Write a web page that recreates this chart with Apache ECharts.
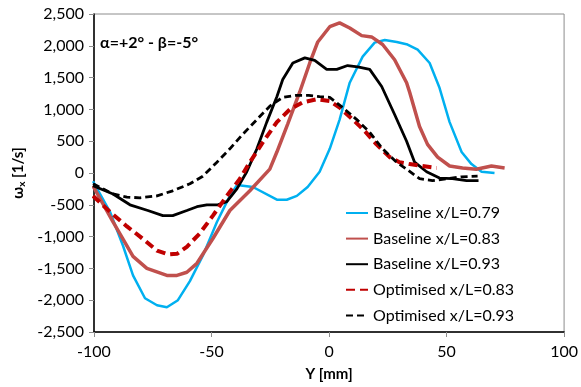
<!DOCTYPE html>
<html>
<head>
<meta charset="utf-8">
<script src="https://cdn.jsdelivr.net/npm/echarts@6/dist/echarts.min.js"></script>
<style>
  html, body { margin: 0; padding: 0; background: #fff; }
  #chart { width: 581px; height: 387px; }
</style>
</head>
<body>
<div id="chart"></div>
<script>
// Y positions [mm] and vorticity [1/s]
const base79Y = [-100.4, -93.2, -87.7, -83.4, -78.3, -73.2, -69.0, -64.3, -59.2, -53.7, -47.7, -42.2, -39.2, -32.4, -22.2, -18.0, -13.7, -9.1, -4.0, 0.3, 4.5, 8.8, 14.3, 19.4, 23.7, 28.8, 33.4, 37.7, 42.8, 47.0, 51.3, 56.4, 60.6, 64.9, 70.4];
const base79V = [-130, -610, -1140, -1610, -1970, -2080, -2110, -2000, -1700, -1300, -770, -360, -190, -220, -420, -420, -360, -220, 20, 380, 840, 1420, 1830, 2050, 2090, 2060, 2020, 1940, 1730, 1340, 800, 330, 140, 20, 0];

const base83Y = [-100.5, -91.9, -83.4, -77.5, -69.0, -64.7, -60.5, -56.2, -49.4, -42.2, -33.7, -25.2, -22.2, -17.6, -12.5, -8.2, -4.8, 0.3, 4.5, 8.8, 13.9, 18.1, 22.8, 27.9, 33.0, 34.3, 38.5, 41.9, 46.2, 51.3, 56.8, 62.7, 69.1, 74.7];
const base83V = [-200, -770, -1310, -1500, -1610, -1610, -1560, -1420, -1030, -590, -280, 60, 330, 770, 1270, 1730, 2060, 2300, 2360, 2280, 2160, 2140, 2020, 1780, 1420, 1270, 730, 450, 250, 110, 80, 60, 110, 80];

const base93Y = [-100.4, -91.9, -84.7, -77.1, -70.7, -66.5, -60.5, -56.2, -52.0, -47.3, -43.5, -39.2, -35.0, -30.7, -26.5, -22.2, -19.7, -15.4, -10.3, -6.1, -1.0, 3.3, 7.9, 12.2, 17.3, 22.4, 27.9, 33.0, 36.4, 41.5, 47.0, 52.5, 58.5, 63.6];
const base93V = [-200, -330, -500, -590, -670, -670, -590, -530, -500, -500, -450, -250, 20, 380, 800, 1200, 1470, 1730, 1810, 1770, 1630, 1630, 1690, 1670, 1630, 1360, 920, 500, 170, 20, -80, -90, -120, -120];

const opt83Y = [-100.4, -93.2, -86.0, -80.4, -73.2, -68.5, -64.7, -60.5, -55.0, -49.4, -43.5, -37.9, -33.7, -28.2, -22.2, -16.7, -11.2, -5.2, 0.3, 4.5, 10.1, 15.2, 20.2, 25.8, 30.0, 34.3, 45.8];
const opt83V = [-360, -610, -840, -1000, -1220, -1280, -1270, -1160, -950, -670, -360, -90, 170, 480, 800, 1000, 1110, 1160, 1130, 1030, 840, 660, 450, 250, 170, 140, 80];

const opt93Y = [-100.4, -91.9, -86.0, -80.4, -73.2, -66.5, -59.2, -53.7, -47.7, -42.2, -36.7, -30.7, -25.2, -19.7, -14.1, -8.6, -4.0, 0.3, 5.8, 11.8, 17.3, 22.8, 28.7, 33.0, 38.5, 44.0, 50.0, 56.4, 63.2];
const opt93V = [-170, -330, -380, -390, -360, -280, -170, -50, 170, 380, 610, 840, 1050, 1190, 1220, 1220, 1200, 1190, 1030, 840, 640, 380, 170, 60, -90, -120, -90, -60, -50];

const seriesNames = ['Baseline x/L=0.79', 'Baseline x/L=0.83', 'Baseline x/L=0.93', 'Optimised x/L=0.83', 'Optimised x/L=0.93'];
const annotation = 'α=+2° - β=-5°';

const zip = (xs, ys) => xs.map((x, i) => [x, ys[i]]);
const font = 'Lato, "Open Sans", sans-serif';

const chart = echarts.init(document.getElementById('chart'));

const mkLine = (name, data, color, width, type) => ({
  name: name,
  type: 'line',
  data: data,
  symbol: 'none',
  smooth: false,
  lineStyle: { color: color, width: width, type: type },
  itemStyle: { color: color },
  z: 3
});

chart.setOption({
  animation: false,
  textStyle: { fontFamily: font },
  grid: {
    left: 94, right: 15, top: 14, bottom: 53,
    show: true, borderColor: '#8c8c8c', borderWidth: 1
  },
  graphic: [{
    type: 'text',
    left: 100, top: 35,
    style: { text: annotation, font: 'bold 16px ' + font, fill: '#000' }
  }],
  legend: {
    orient: 'vertical',
    left: 340, top: 200,
    itemWidth: 22, itemHeight: 12, itemGap: 9.6,
    itemStyle: { opacity: 0 },
    textStyle: { fontSize: 16, color: '#000', fontFamily: font },
    data: seriesNames
  },
  xAxis: {
    type: 'value',
    min: -100, max: 100, interval: 50,
    name: 'Y [mm]',
    nameLocation: 'middle',
    nameGap: 35,
    nameTextStyle: { fontWeight: 'bold', fontSize: 15, color: '#000' },
    axisLine: { onZero: false, lineStyle: { color: '#000', width: 1.5 } },
    axisTick: { show: true, length: 5, lineStyle: { color: '#8c8c8c' } },
    axisLabel: { fontSize: 16, color: '#000', margin: 12 },
    splitLine: { show: false }
  },
  yAxis: {
    type: 'value',
    min: -2500, max: 2500, interval: 500,
    name: '{w|ω}{s|x}{w| [1/s]}',
    nameLocation: 'middle',
    nameGap: 64,
    nameRotate: 90,
    nameTextStyle: {
      rich: {
        w: { fontWeight: 'bold', fontSize: 15, color: '#000', fontFamily: font },
        s: { fontWeight: 'bold', fontSize: 10, color: '#000', fontFamily: font, verticalAlign: 'bottom', padding: [6, 0, 0, 0] }
      }
    },
    axisLine: { show: true, onZero: false, lineStyle: { color: '#000', width: 1.5 } },
    axisTick: { show: true, length: 5, lineStyle: { color: '#8c8c8c' } },
    axisLabel: {
      fontSize: 16, color: '#000', margin: 10,
      formatter: v => v.toLocaleString('en-US')
    },
    splitLine: { show: false }
  },
  series: [
    mkLine(seriesNames[0], zip(base79Y, base79V), '#00B0F0', 2.5, 'solid'),
    mkLine(seriesNames[1], zip(base83Y, base83V), '#C0504D', 3.5, 'solid'),
    mkLine(seriesNames[2], zip(base93Y, base93V), '#000000', 2.8, 'solid'),
    mkLine(seriesNames[3], zip(opt83Y, opt83V), '#C00000', 4, [9, 5]),
    mkLine(seriesNames[4], zip(opt93Y, opt93V), '#000000', 2.8, [7, 4])
  ]
});
</script>
</body>
</html>
